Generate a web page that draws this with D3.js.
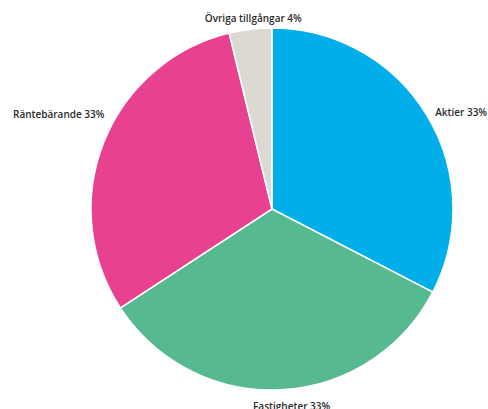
<!DOCTYPE html>
<html>
<head>
<meta charset="utf-8">
<script src="https://cdn.jsdelivr.net/npm/d3@7"></script>
<style>
  body { margin: 0; background: #fff; }
  text { font-family: "Open Sans", sans-serif; }
</style>
</head>
<body>
<div id="pie"></div>
<script>
const categories = ["Aktier", "Fastigheter", "Räntebärande", "Övriga tillgångar"];
const shares = [32.6, 33.2, 30.4, 3.8];
const shareLabels = ["33%", "33%", "33%", "4%"];
const colors = ["#00aeea", "#57b98f", "#e8418f", "#dcd8d2"];

const width = 488,
    height = 409,
    cx = 272,
    cy = 209,
    radius = 181;

const data = categories.map((c, i) => ({ name: c, value: shares[i], label: c + " " + shareLabels[i], color: colors[i] }));

let svg = d3.select("#pie")
    .append("svg")
    .attr("width", width)
    .attr("height", height);

const pie = d3.pie()
    .sort(null)
    .value(d => d.value);

const arc = d3.arc()
    .innerRadius(0)
    .outerRadius(radius);

const labelArc = d3.arc()
    .innerRadius(radius + 10)
    .outerRadius(radius + 10);

// small nudges so labels sit like the original
const nudge = {
    "Aktier": [0, 3],
    "Fastigheter": [10, 7],
    "Räntebärande": [10, -24],
    "Övriga tillgångar": [4, -1]
};

let g = svg.append("g")
    .attr("transform", `translate(${cx}, ${cy})`);

g.selectAll("path")
    .data(pie(data))
    .join("path")
    .attr("d", arc)
    .attr("fill", d => d.data.color)
    .attr("stroke", "#fff")
    .attr("stroke-width", 1.5);

g.selectAll("text")
    .data(pie(data))
    .join("text")
    .text(d => d.data.label)
    .attr("x", d => labelArc.centroid(d)[0] + (nudge[d.data.name] || [0, 0])[0])
    .attr("y", d => labelArc.centroid(d)[1] + (nudge[d.data.name] || [0, 0])[1])
    .attr("dy", "0.35em")
    .attr("text-anchor", d => {
        const mid = (d.startAngle + d.endAngle) / 2;
        if (Math.abs(Math.sin(mid)) < 0.25) return "middle";
        return Math.sin(mid) > 0 ? "start" : "end";
    })
    .style("font-size", "10px")
    .style("font-weight", 600)
    .style("fill", "#2b2b2b");
</script>
</body>
</html>
